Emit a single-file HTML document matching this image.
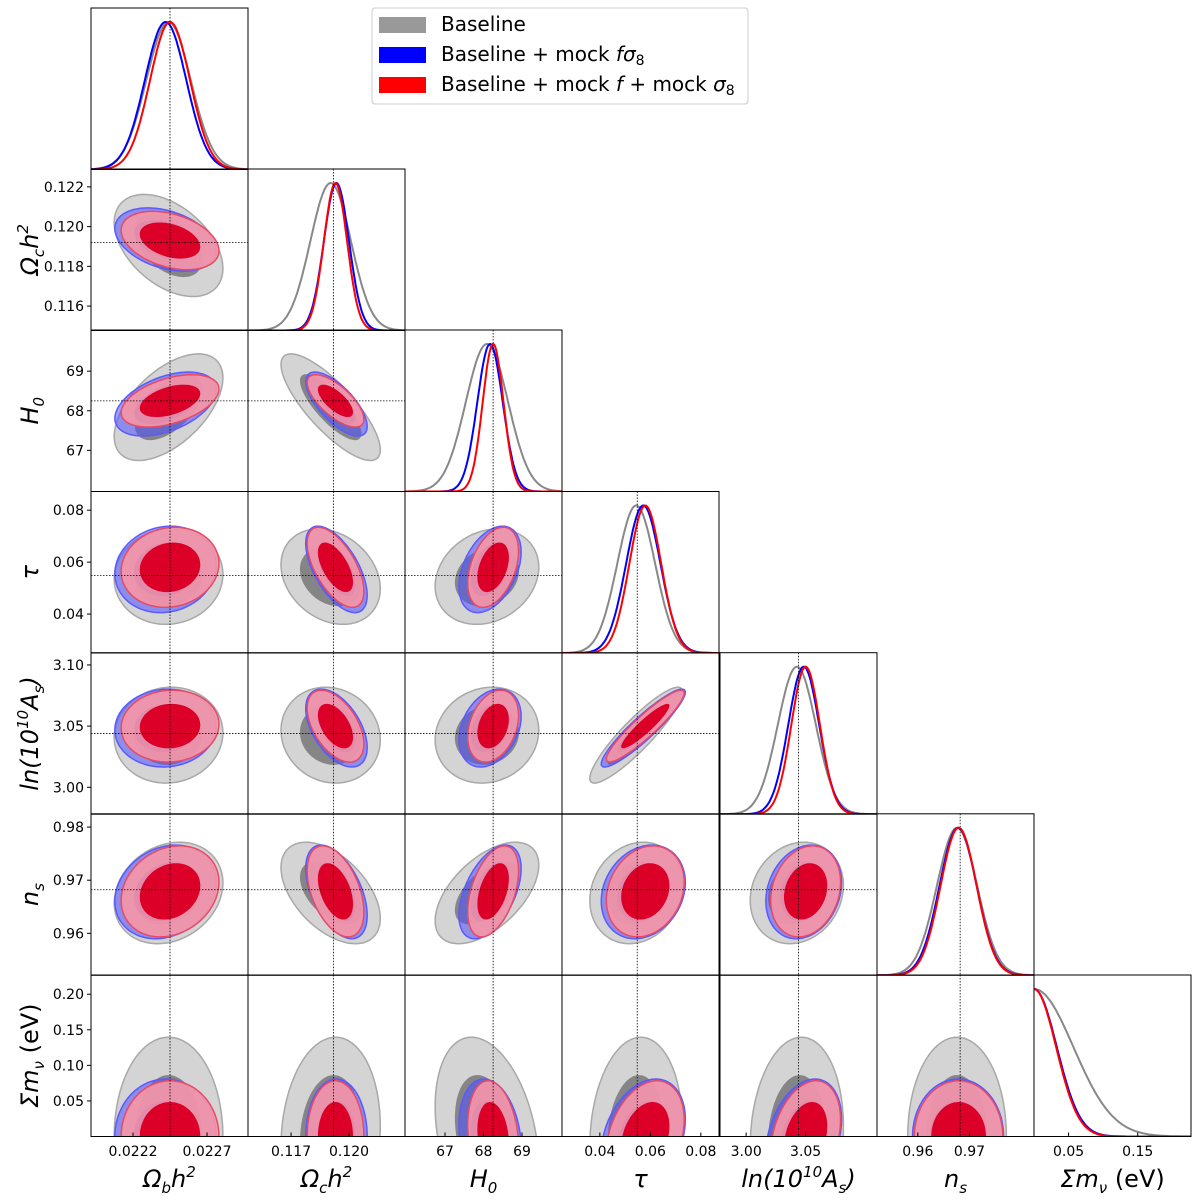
<!DOCTYPE html>
<html><head><meta charset="utf-8"><style>
html,body{margin:0;padding:0;background:#fff}
svg{display:block;font-family:"DejaVu Sans","Liberation Sans",sans-serif}
</style></head><body>
<svg id="fig" width="1200" height="1201" viewBox="0 0 1200 1201" xmlns="http://www.w3.org/2000/svg">
<g id="panels"></g>
<g>
<rect x="372" y="8" width="376" height="96" fill="#fff" stroke="#ccc" stroke-width="1" rx="3"/>
<rect x="379" y="17" width="47" height="16" fill="#999"/>
<text x="441" y="31" font-size="20">Baseline</text>
<rect x="379" y="47" width="47" height="16" fill="#0000ff"/>
<text x="441" y="61" font-size="20">Baseline + mock <tspan font-style="italic">fσ</tspan><tspan font-size="14" dy="4">8</tspan></text>
<rect x="379" y="77" width="47" height="16" fill="#ff0000"/>
<text x="441" y="91" font-size="20">Baseline + mock <tspan font-style="italic">f</tspan> + mock <tspan font-style="italic">σ</tspan><tspan font-size="14" dy="4">8</tspan></text>
</g>
</svg>
<script>
const paramNames = ['ob','oc','H0','tau','lnAs','ns','mnu'];
const ranges = [[0.021916,0.022977],[0.11477,0.12290],[65.96,70.04],[0.0250,0.0872],[2.978,3.110],[0.9521,0.9825],[0,0.227]];
const refValues = [0.02245,0.1192,68.25,0.0548,3.044,0.9682,null];
const xTicks = [[0.0222,0.0227],[0.117,0.120],[67,68,69],[0.04,0.06,0.08],[3.00,3.05],[0.96,0.97],[0.05,0.15]];
const xTickLabels = [['0.0222','0.0227'],['0.117','0.120'],['67','68','69'],['0.04','0.06','0.08'],['3.00','3.05'],['0.96','0.97'],['0.05','0.15']];
const yTicks = [[],[0.116,0.118,0.120,0.122],[67,68,69],[0.04,0.06,0.08],[3.00,3.05,3.10],[0.96,0.97,0.98],[0.05,0.10,0.15,0.20]];
const yTickLabels = [[],['0.116','0.118','0.120','0.122'],['67','68','69'],['0.04','0.06','0.08'],['3.00','3.05','3.10'],['0.96','0.97','0.98'],['0.05','0.10','0.15','0.20']];
const axisLabels = ['Ω<tspan font-size="15" dy="6">b</tspan><tspan dy="-6">h</tspan><tspan font-size="15" dy="-10">2</tspan>',
 'Ω<tspan font-size="15" dy="6">c</tspan><tspan dy="-6">h</tspan><tspan font-size="15" dy="-10">2</tspan>',
 'H<tspan font-size="15" dy="6">0</tspan>','τ',
 'ln(10<tspan font-size="15" dy="-10">10</tspan><tspan dy="10">A</tspan><tspan font-size="15" dy="6">s</tspan><tspan dy="-6">)</tspan>',
 'n<tspan font-size="15" dy="6">s</tspan>',
 'Σm<tspan font-size="15" dy="6">ν</tspan><tspan dy="-6" font-style="normal"> (eV)</tspan>'];
const meansBaseline = [0.02244,0.11905,68.09,0.0544,3.0426,0.9676,0];
const sigmasBaseline = [0.000150,0.00105,0.55,0.0075,0.016,0.0039,0.057];
const meansFs8 = [0.02242,0.11935,68.17,0.0572,3.0484,0.9678,0];
const sigmasFs8 = [0.000140,0.00065,0.33,0.0068,0.013,0.0036,0.033];
const meansFS8 = [0.02245,0.1193,68.25,0.0580,3.0500,0.9679,0];
const sigmasFS8 = [0.000135,0.00060,0.27,0.0063,0.012,0.0035,0.032];
const corrBaseline = [[0,-0.45,0.55,0.05,0.05,0.2,0],[0,0,-0.8,-0.25,-0.1,-0.5,0.1],[0,0,0,0.2,0.1,0.55,-0.3],[0,0,0,0,0.9,0.15,0.1],[0,0,0,0,0,0.15,0.1],[0,0,0,0,0,0,0]];
const corrFs8 = [[0,-0.35,0.45,0.1,0.05,0.2,0],[0,0,-0.7,-0.6,-0.5,-0.5,0],[0,0,0,0.4,0.3,0.5,-0.2],[0,0,0,0,0.92,0.2,0.3],[0,0,0,0,0,0.2,0.3],[0,0,0,0,0,0,0]];
const corrFS8 = [[0,-0.35,0.45,0.1,0.05,0.2,0],[0,0,-0.7,-0.6,-0.5,-0.45,0],[0,0,0,0.4,0.3,0.45,-0.2],[0,0,0,0,0.92,0.2,0.3],[0,0,0,0,0,0.2,0.3],[0,0,0,0,0,0,0]];

const NS='http://www.w3.org/2000/svg';
const colX=[91,248,405,562,720,877,1034], PW=157;
const rowY=[8,169,330,491.5,652.7,813.8,975], PH=161.5;
function sx(p,v,c){const r=ranges[p];return colX[c]+(v-r[0])/(r[1]-r[0])*PW;}
function sy(p,v,rw){const r=ranges[p];return rowY[rw]+PH-(v-r[0])/(r[1]-r[0])*PH;}
const root=document.getElementById('panels');
function mk(tag,attrs,parent){const e=document.createElementNS(NS,tag);for(const k in attrs)e.setAttribute(k,attrs[k]);(parent||root).appendChild(e);return e;}
const sets=[
 {m:meansBaseline,s:sigmasBaseline,c:corrBaseline,name:'baseline',f2:'#d4d4d4',f1:'#858585',st:'#a8a8a8',line:'#888888'},
 {m:meansFs8,s:sigmasFs8,c:corrFs8,name:'fs8',f2:'rgba(80,80,255,0.55)',f1:'#1414e6',st:'#5a5aff',line:'#0000ff'},
 {m:meansFS8,s:sigmasFS8,c:corrFS8,name:'f-s8',f2:'rgba(244,150,166,0.92)',f1:'#dc0028',st:'#e84a66',line:'#ff0000'}];
function corr(c,i,j){return i<j?c[i][j]:c[j][i];}
let clipId=0;
for(let r=0;r<7;r++){for(let c=0;c<=r;c++){
 const g=mk('g',{});
 
 
 const cid='cp'+(clipId++);
 const cp=mk('clipPath',{id:cid},g);mk('rect',{x:colX[c],y:rowY[r],width:PW,height:PH},cp);
 const inner=mk('g',{'clip-path':'url(#'+cid+')'},g);
 if(r===c){
  sets.forEach(S=>{
   let d='';const mu=S.m[c],sg=S.s[c];
   for(let k=0;k<=200;k++){const px=colX[c]+k*PW/200;const v=ranges[c][0]+(ranges[c][1]-ranges[c][0])*k/200;
    let z=(v-mu)/sg;let y=Math.exp(-0.5*z*z);
    const py=rowY[r]+PH-(PH-14)*y;d+=(k?'L':'M')+px.toFixed(1)+' '+py.toFixed(1);}
   const p=mk('path',{d:d,fill:'none',stroke:S.line,'stroke-width':2},inner);
   
   
  });
 } else {
  sets.forEach(S=>{
   const rho=corr(S.c,c,r);[2.448,1.515].forEach((k,li)=>{
    let d='';
    for(let t=0;t<=120;t++){const a=t/120*2*Math.PI;
     const vx=S.m[c]+k*S.s[c]*Math.cos(a);
     const vy=S.m[r]+k*S.s[r]*(rho*Math.cos(a)+Math.sqrt(1-rho*rho)*Math.sin(a));
     d+=(t?'L':'M')+sx(c,vx,c).toFixed(1)+' '+sy(r,vy,r).toFixed(1);}
    const p=mk('path',{d:d+'Z',fill:li?S.f1:S.f2,stroke:li?'none':S.st,'stroke-width':1.5},inner);
    
    
   });
  });
 }
 if(refValues[c]!==null){const x=sx(c,refValues[c],c);
  mk('line',{x1:x,x2:x,y1:rowY[r],y2:rowY[r]+PH,stroke:'#000','stroke-width':0.8,'stroke-dasharray':'1.5,1.5'},inner);}
 if(r!==c&&refValues[r]!==null){const y=sy(r,refValues[r],r);
  mk('line',{x1:colX[c],x2:colX[c]+PW,y1:y,y2:y,stroke:'#000','stroke-width':0.8,'stroke-dasharray':'1.5,1.5'},inner);}
 const fr=mk('rect',{x:colX[c],y:rowY[r],width:PW,height:PH,fill:'none',stroke:'#000','stroke-width':1},g);
 
 
 if(r===6){xTicks[c].forEach((v,i)=>{const x=sx(c,v,c);
  mk('line',{x1:x,x2:x,y1:rowY[6]+PH,y2:rowY[6]+PH-4,stroke:'#000'},g);
  const t=mk('text',{x:x,y:1156,'font-size':14,'text-anchor':'middle'},g);t.textContent=xTickLabels[c][i];
  
  });
  const L=mk('text',{x:colX[c]+PW/2,y:1187,'font-size':24,'text-anchor':'middle','font-style':'italic'},g);L.innerHTML=axisLabels[c];
  
  }
 if(c===0&&r>0){yTicks[r].forEach((v,i)=>{const y=sy(r,v,r);
  mk('line',{x1:91,x2:87,y1:y,y2:y,stroke:'#000'},g);
  const t=mk('text',{x:84,y:y+5,'font-size':14,'text-anchor':'end'},g);t.textContent=yTickLabels[r][i];
  
  });
  const cy=rowY[r]+PH/2;
  const L=mk('text',{x:0,y:0,'font-size':24,'text-anchor':'middle','font-style':'italic',transform:'translate(38,'+cy+') rotate(-90)'},g);L.innerHTML=axisLabels[r];
  
  }
}}
</script>
</body></html>
